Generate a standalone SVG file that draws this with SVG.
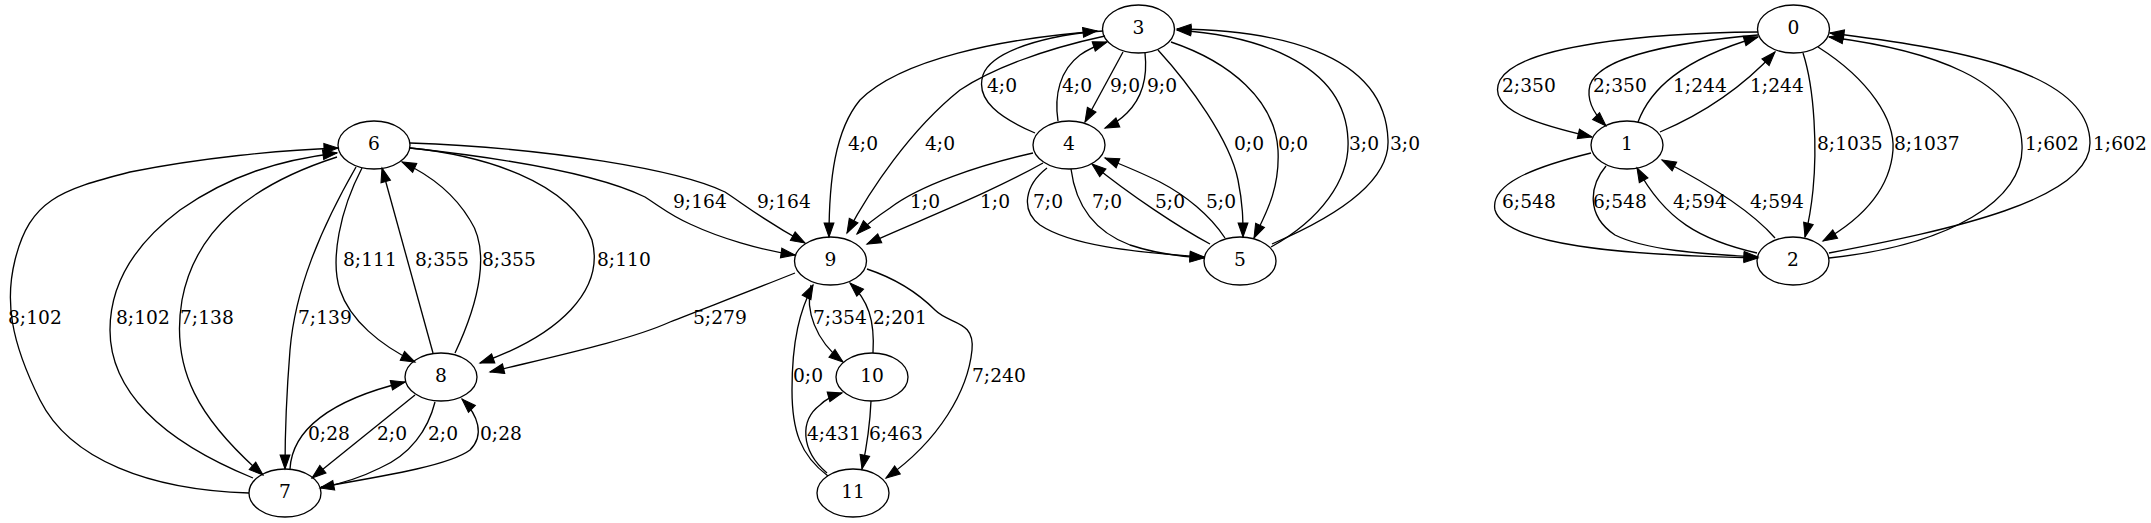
<svg xmlns="http://www.w3.org/2000/svg" width="2151" height="523" viewBox="0 0 2151 523">
<style>
.node ellipse{fill:none;stroke:#000;stroke-width:1.33}
text{font-family:"DejaVu Serif","Liberation Serif",serif;font-size:18.67px;fill:#000}
.node text{text-anchor:middle}
.edges path{fill:none;stroke:#000;stroke-width:1.33;marker-end:url(#arr)}
</style>
<defs>
<marker id="arr" markerUnits="userSpaceOnUse" markerWidth="14" markerHeight="10" refX="13.33" refY="4.67" orient="auto" viewBox="0 0 13.33 9.33" overflow="visible">
<path d="M0,0 L13.33,4.67 L0,9.33 z" fill="#000" stroke="#000" stroke-width="1"/>
</marker>
</defs>
<rect width="2151" height="523" fill="#fff"/>
<g class="edges">
<path d="M249,493 C150,490 70,460 40,400 C10,340 5,300 15,260 C30,200 60,190 130,172 C200,158 280,150 338,148"/>
<path d="M253,478 C160,440 110,390 110,330 C110,280 140,240 180,210 C230,175 280,160 337,153"/>
<path d="M337,157 C250,185 195,230 182,300 C170,370 200,420 263,475"/>
<path d="M356,167 C320,230 295,290 290,350 C286,400 285,440 285,469"/>
<path d="M362,168 C340,210 330,260 340,290 C350,320 380,345 415,362"/>
<path d="M433,353 L382,168"/>
<path d="M455,353 C480,300 490,250 470,220 C455,195 430,175 402,162"/>
<path d="M410,148 C480,155 570,180 592,240 C605,290 560,335 480,363"/>
<path d="M410,148 C520,160 600,175 645,197 C665,210 670,215 690,224 C720,238 760,250 795,255"/>
<path d="M410,143 C550,148 680,170 725,192 C745,205 760,218 805,243"/>
<path d="M795,273 C740,295 700,310 670,322 C630,340 560,355 490,372"/>
<path d="M290,469 C292,430 330,400 405,382"/>
<path d="M415,395 L312,478"/>
<path d="M435,402 C428,430 410,455 380,468 C360,478 340,484 320,488"/>
<path d="M321,487 C390,475 450,465 470,450 C485,435 478,415 462,399"/>
<path d="M1103,31 C1000,38 900,60 860,100 C835,130 829,180 829,237"/>
<path d="M1105,36 C1040,50 990,70 960,90 C910,130 870,190 847,233"/>
<path d="M1035,133 C1000,118 975,100 983,75 C990,55 1030,38 1097,31"/>
<path d="M1058,121 C1054,95 1060,70 1080,55 C1090,48 1098,45 1107,42"/>
<path d="M1123,52 L1085,122"/>
<path d="M1145,53 C1148,80 1140,100 1127,113 C1120,120 1112,125 1105,128"/>
<path d="M1158,50 C1190,85 1230,140 1238,180 C1243,205 1243,220 1243,237"/>
<path d="M1171,42 C1230,62 1275,100 1278,150 C1280,190 1265,215 1254,238"/>
<path d="M1271,247 C1320,220 1350,180 1348,140 C1345,60 1250,35 1177,30"/>
<path d="M1272,244 C1340,215 1390,180 1388,140 C1385,50 1270,30 1177,29"/>
<path d="M1033,153 C980,165 920,185 890,208 C875,218 866,225 857,234"/>
<path d="M1043,163 C990,193 920,220 867,244"/>
<path d="M1047,168 C1025,185 1020,210 1040,225 C1070,245 1130,252 1204,257"/>
<path d="M1071,169 C1075,200 1090,230 1130,245 C1160,255 1185,257 1204,258"/>
<path d="M1210,244 C1180,228 1130,195 1092,164"/>
<path d="M1225,238 C1210,215 1185,195 1160,182 C1140,172 1120,164 1105,158"/>
<path d="M811,285 C805,310 815,340 843,362"/>
<path d="M873,353 C875,320 868,300 850,283"/>
<path d="M828,476 C800,455 792,430 792,390 C792,340 800,310 813,285"/>
<path d="M827,473 C800,450 800,420 820,405 C827,398 835,395 842,393"/>
<path d="M871,401 C870,425 866,450 862,469"/>
<path d="M867,269 C900,280 920,295 935,310 C950,325 975,320 972,350 C968,390 940,440 886,478"/>
<path d="M1758,32 C1650,33 1520,45 1500,80 C1485,110 1540,125 1592,137"/>
<path d="M1758,35 C1680,42 1600,55 1590,85 C1586,100 1595,115 1606,126"/>
<path d="M1638,122 C1650,90 1680,60 1758,37"/>
<path d="M1660,132 C1700,115 1740,90 1775,52"/>
<path d="M1803,53 C1815,90 1817,150 1813,190 C1811,210 1808,225 1805,237"/>
<path d="M1818,47 C1870,80 1895,120 1893,150 C1890,190 1860,220 1823,241"/>
<path d="M1591,153 C1530,168 1490,185 1495,210 C1505,245 1620,255 1758,258"/>
<path d="M1606,166 C1590,185 1585,215 1615,235 C1645,250 1700,254 1758,257"/>
<path d="M1757,253 C1700,240 1665,220 1637,168"/>
<path d="M1775,238 C1755,215 1720,190 1662,160"/>
<path d="M1829,258 C1950,245 2025,200 2022,145 C2020,80 1930,50 1829,37"/>
<path d="M1829,253 C1950,230 2090,200 2090,143 C2090,70 1950,48 1830,33"/>
</g>
<g class="labels">
<text x="8" y="324">8;102</text>
<text x="116" y="324">8;102</text>
<text x="180" y="324">7;138</text>
<text x="298" y="324">7;139</text>
<text x="343" y="266">8;111</text>
<text x="415" y="266">8;355</text>
<text x="482" y="266">8;355</text>
<text x="597" y="266">8;110</text>
<text x="673" y="208">9;164</text>
<text x="757" y="208">9;164</text>
<text x="693" y="324">5;279</text>
<text x="308" y="440">0;28</text>
<text x="377" y="440">2;0</text>
<text x="428" y="440">2;0</text>
<text x="480" y="440">0;28</text>
<text x="848" y="150">4;0</text>
<text x="925" y="150">4;0</text>
<text x="987" y="92">4;0</text>
<text x="1062" y="92">4;0</text>
<text x="1110" y="92">9;0</text>
<text x="1147" y="92">9;0</text>
<text x="1234" y="150">0;0</text>
<text x="1278" y="150">0;0</text>
<text x="1349" y="150">3;0</text>
<text x="1390" y="150">3;0</text>
<text x="910" y="208">1;0</text>
<text x="980" y="208">1;0</text>
<text x="1033" y="208">7;0</text>
<text x="1092" y="208">7;0</text>
<text x="1155" y="208">5;0</text>
<text x="1206" y="208">5;0</text>
<text x="813" y="324">7;354</text>
<text x="873" y="324">2;201</text>
<text x="793" y="382">0;0</text>
<text x="807" y="440">4;431</text>
<text x="869" y="440">6;463</text>
<text x="972" y="382">7;240</text>
<text x="1502" y="92">2;350</text>
<text x="1593" y="92">2;350</text>
<text x="1673" y="92">1;244</text>
<text x="1750" y="92">1;244</text>
<text x="1817" y="150">8;1035</text>
<text x="1894" y="150">8;1037</text>
<text x="2025" y="150">1;602</text>
<text x="2093" y="150">1;602</text>
<text x="1502" y="208">6;548</text>
<text x="1593" y="208">6;548</text>
<text x="1673" y="208">4;594</text>
<text x="1750" y="208">4;594</text>
</g>
<g id="node0" class="node"><ellipse cx="1793.5" cy="29" rx="36" ry="24"/><text x="1793.5" y="34">0</text></g>
<g id="node1" class="node"><ellipse cx="1627" cy="145" rx="36" ry="24"/><text x="1627" y="150">1</text></g>
<g id="node2" class="node"><ellipse cx="1793" cy="261" rx="36" ry="24"/><text x="1793" y="266">2</text></g>
<g id="node3" class="node"><ellipse cx="1138.5" cy="29" rx="36" ry="24"/><text x="1138.5" y="34">3</text></g>
<g id="node4" class="node"><ellipse cx="1069" cy="145" rx="36" ry="24"/><text x="1069" y="150">4</text></g>
<g id="node5" class="node"><ellipse cx="1240" cy="261" rx="36" ry="24"/><text x="1240" y="266">5</text></g>
<g id="node6" class="node"><ellipse cx="374" cy="145" rx="36" ry="24"/><text x="374" y="150">6</text></g>
<g id="node7" class="node"><ellipse cx="285" cy="493" rx="36" ry="24"/><text x="285" y="498">7</text></g>
<g id="node8" class="node"><ellipse cx="441" cy="377" rx="36" ry="24"/><text x="441" y="382">8</text></g>
<g id="node9" class="node"><ellipse cx="830.5" cy="261" rx="36" ry="24"/><text x="830.5" y="266">9</text></g>
<g id="node10" class="node"><ellipse cx="872" cy="377" rx="36" ry="24"/><text x="872" y="382">10</text></g>
<g id="node11" class="node"><ellipse cx="853" cy="493" rx="36" ry="24"/><text x="853" y="498">11</text></g>
</svg>
